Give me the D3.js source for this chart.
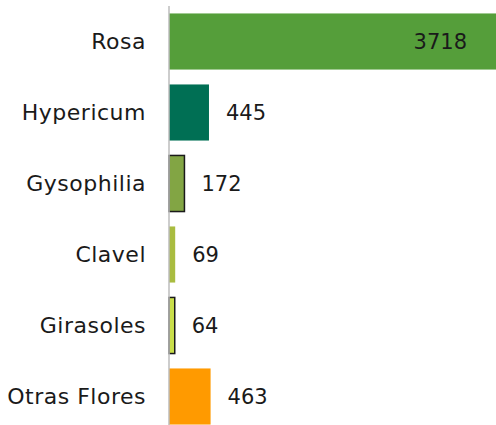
<!DOCTYPE html>
<html>
<head>
<meta charset="utf-8">
<script src="https://cdn.jsdelivr.net/npm/d3@7"></script>
<style>
  html, body { margin: 0; padding: 0; background: #fff; }
  text { font-family: 'DejaVu Sans', sans-serif; fill: #1a1a1a; }
</style>
</head>
<body>
<div id="js_chart"></div>
<script>
// chart values
const categories = ['Rosa', 'Hypericum', 'Gysophilia', 'Clavel', 'Girasoles', 'Otras Flores'];
const values = [3718, 445, 172, 69, 64, 463];
const barColors = ['#559E3A', '#006F54', '#82A544', '#A9BC40', '#C9DE4A', '#FF9A00'];
const outlined = [false, false, true, false, true, false];

const width = 496, height = 425;
const axisX = 169;

const svg = d3.select('#js_chart').append('svg')
	.attr('width', width)
	.attr('height', height);

const x = d3.scaleLinear()
	.domain([0, 3718])
	.range([axisX, 503]);

const y = d3.scaleBand()
	.domain(categories)
	.range([6, 432])
	.paddingInner(0.21)
	.paddingOuter(0.105);

const rows = categories.map(function (c, i) {
	return { name: c, value: values[i], color: barColors[i], outline: outlined[i] };
});

// bars
svg.selectAll('.bar')
	.data(rows).enter().append('rect')
	.attr('class', 'bar')
	.attr('x', x(0))
	.attr('y', function (d) { return y(d.name); })
	.attr('width', function (d) { return x(d.value) - x(0); })
	.attr('height', y.bandwidth())
	.style('fill', function (d) { return d.color; })
	.style('stroke', function (d) { return d.outline ? '#1a1a1a' : 'none'; })
	.style('stroke-width', 1.5);

// category axis line
svg.append('line')
	.attr('x1', axisX).attr('x2', axisX)
	.attr('y1', 6).attr('y2', height)
	.style('stroke', '#BDBDBD')
	.style('stroke-width', 1.5);

// category labels
svg.selectAll('.cat')
	.data(rows).enter().append('text')
	.attr('class', 'cat')
	.attr('x', axisX - 23)
	.attr('y', function (d) { return y(d.name) + y.bandwidth() / 2; })
	.attr('dy', '0.35em')
	.style('text-anchor', 'end')
	.style('font-size', '22px')
	.style('letter-spacing', '0.5px')
	.text(function (d) { return d.name; });

// value labels: inside for the long bar, outside for the rest
svg.selectAll('.val')
	.data(rows).enter().append('text')
	.attr('class', 'val')
	.attr('x', function (d, i) { return i === 0 ? 467 : x(d.value) + 17; })
	.attr('y', function (d) { return y(d.name) + y.bandwidth() / 2; })
	.attr('dy', '0.35em')
	.style('text-anchor', function (d, i) { return i === 0 ? 'end' : 'start'; })
	.style('font-size', '21px')
	.text(function (d) { return d.value; });
</script>
</body>
</html>
